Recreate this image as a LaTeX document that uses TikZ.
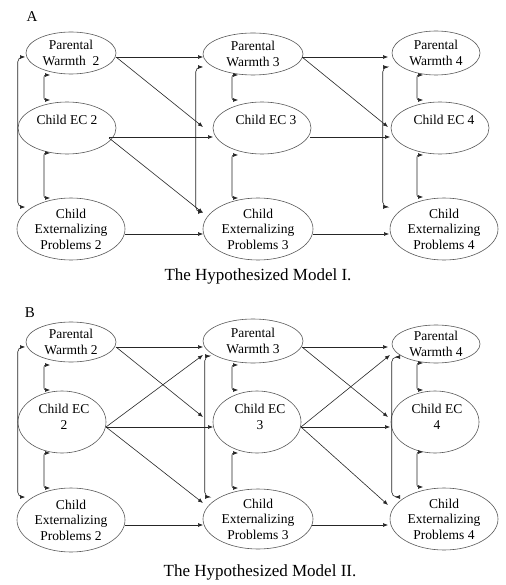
\documentclass[tikz,border=0pt]{standalone}
\usepackage{fontspec}
\setmainfont{Liberation Serif}
\usetikzlibrary{arrows.meta,shapes.geometric,calc}
\begin{document}
\begin{tikzpicture}[x=1pt,y=-1pt,
  ell/.style 2 args={ellipse, draw=black!65, line width=0.6pt, minimum width=#1, minimum height=#2, inner sep=0pt},
  txt/.style={font=\fontsize{13.5}{15.5}\selectfont, align=center, inner sep=0pt},
  captxt/.style={font=\fontsize{17}{20}\selectfont, inner sep=0pt},
  panel/.style={font=\fontsize{15}{18}\selectfont, inner sep=0pt},
  arr/.style={-{Latex[length=5pt,width=4pt]}, line width=0.6pt, draw=black!85},
  bi/.style={{Latex[length=5pt,width=4pt]}-{Latex[length=5pt,width=4pt]}, line width=0.6pt, draw=black!85, rounded corners=5pt},
  sbi/.style={bi, rounded corners=2pt}]
\fill[white] (0,0) rectangle (505,585);
\useasboundingbox (0,0) rectangle (505,585);

% ---------------- Panel A ----------------
\node[panel] (labA) at (32,17) {A};
\node[ell={90pt}{42pt}, label={[txt]center:Parental\\Warmth\ \ 2}] (pw2) at (71,53) {};
\node[ell={100pt}{42pt}, label={[txt]center:Parental\\Warmth 3}] (pw3) at (253,54) {};
\node[ell={88pt}{44pt}, label={[txt]center:Parental\\Warmth 4}] (pw4) at (436,53) {};
\node[ell={98pt}{52pt}, label={[txt,yshift=8pt]center:Child EC 2}] (c2) at (67,128) {};
\node[ell={98pt}{52pt}, label={[txt,yshift=8pt,xshift=4pt]center:Child EC 3}] (c3) at (262,128) {};
\node[ell={98pt}{52pt}, label={[txt,yshift=8pt,xshift=4pt]center:Child EC 4}] (c4) at (440,128) {};
\node[ell={108pt}{62pt}, label={[txt]center:Child\\Externalizing\\Problems 2}] (x2) at (71,229) {};
\node[ell={110pt}{62pt}, label={[txt]center:Child\\Externalizing\\Problems 3}] (x3) at (258,229) {};
\node[ell={108pt}{62pt}, label={[txt]center:Child\\Externalizing\\Problems 4}] (x4) at (444,229) {};
\node[captxt] (capA) at (258,276) {The Hypothesized Model I.};

\draw[arr] ($(pw2)+(45,4)$) -- ($(pw3)+(-50,3)$);
\draw[arr] ($(pw2)+(45,4)$) -- ($(c3)+(-59,-1)$);
\draw[arr] ($(c2)+(42,9)$) -- ($(c3)+(-49,9)$);
\draw[arr] ($(c2)+(42,10)$) -- ($(x3)+(-55,-16)$);
\draw[arr] ($(x2)+(54,5)$) -- ($(x3)+(-55,5)$);
\draw[arr] ($(pw3)+(49,3)$) -- ($(pw4)+(-48,4)$);
\draw[arr] ($(pw3)+(49,3)$) -- ($(c4)+(-52,-1)$);
\draw[arr] ($(c3)+(48,9)$) -- ($(c4)+(-50,9)$);
\draw[arr] ($(x3)+(55,5)$) -- ($(x4)+(-55,5)$);

\draw[bi] ($(pw2)+(-46,4)$) -| (c2.west) |- ($(x2)+(-46,-22)$);
\draw[bi] ($(pw3)+(-50,13)$) -| ($(c3.west)+(-17,0)$) |- ($(x3)+(-55,-17)$);
\draw[bi] ($(pw4)+(-48,14)$) -| ($(c4.west)+(-8,0)$) |- ($(x4)+(-56,-22)$);

\draw[sbi] ($(pw2)+(-21,22)$) -- ++(-6,0) |- ($(c2)+(-17,-28)$);
\draw[sbi] ($(c2)+(-17,25)$) -- ++(-6,0) |- ($(x2)+(-21,-31)$);
\draw[sbi] ($(pw3)+(-15,21)$) -- ++(-6,0) |- ($(c3)+(-24,-28)$);
\draw[sbi] ($(c3)+(-24,27)$) -- ++(-6,0) |- ($(x3)+(-20,-31)$);
\draw[sbi] ($(pw4)+(-13,22)$) -- ++(-6,0) |- ($(c4)+(-17,-28)$);
\draw[sbi] ($(c4)+(-17,27)$) -- ++(-6,0) |- ($(x4)+(-21,-32)$);

% ---------------- Panel B ----------------
\node[panel] (labB) at (30,313) {B};
\node[ell={90pt}{40pt}, label={[txt]center:Parental\\Warmth 2}] (pw2b) at (71,342) {};
\node[ell={100pt}{44pt}, label={[txt]center:Parental\\Warmth 3}] (pw3b) at (253,341) {};
\node[ell={88pt}{38pt}, label={[txt]center:Parental\\Warmth 4}] (pw4b) at (436,344) {};
\node[ell={88pt}{62pt}, label={[txt,yshift=5pt,xshift=2pt]center:Child EC\\2}] (c2b) at (62,422) {};
\node[ell={88pt}{62pt}, label={[txt,yshift=5pt,xshift=3pt]center:Child EC\\3}] (c3b) at (257,422) {};
\node[ell={88pt}{62pt}, label={[txt,yshift=5pt,xshift=2pt]center:Child EC\\4}] (c4b) at (435,422) {};
\node[ell={108pt}{64pt}, label={[txt]center:Child\\Externalizing\\Problems 2}] (x2b) at (71,520) {};
\node[ell={110pt}{60pt}, label={[txt]center:Child\\Externalizing\\Problems 3}] (x3b) at (258,519) {};
\node[ell={108pt}{62pt}, label={[txt]center:Child\\Externalizing\\Problems 4}] (x4b) at (444,519) {};
\node[captxt] (capB) at (260,572) {The Hypothesized Model II.};

\draw[arr] ($(pw2b)+(45,5)$) -- ($(pw3b)+(-50,6)$);
\draw[arr] ($(pw2b)+(45,5)$) -- ($(c3b)+(-54,-5)$);
\draw[arr] ($(c2b)+(44,5)$) -- ($(pw3b)+(-50,14)$);
\draw[arr] ($(c2b)+(44,5)$) -- ($(c3b)+(-44,5)$);
\draw[arr] ($(c2b)+(44,5)$) -- ($(x3b)+(-55,-16)$);
\draw[arr] ($(x2b)+(54,5)$) -- ($(x3b)+(-55,6)$);
\draw[arr] ($(pw3b)+(49,6)$) -- ($(pw4b)+(-48,3)$);
\draw[arr] ($(pw3b)+(49,6)$) -- ($(c4b)+(-47,-5)$);
\draw[arr] ($(c3b)+(44,5)$) -- ($(pw4b)+(-46,11)$);
\draw[arr] ($(c3b)+(44,5)$) -- ($(c4b)+(-45,5)$);
\draw[arr] ($(c3b)+(44,5)$) -- ($(x4b)+(-56,-14)$);
\draw[arr] ($(x3b)+(54,6)$) -- ($(x4b)+(-56,6)$);

\draw[bi] ($(pw2b)+(-46,5)$) -| (c2b.west) |- ($(x2b)+(-46,-23)$);
\draw[bi] ($(pw3b)+(-43,15)$) -| ($(c3b.west)+(-8,0)$) |- ($(x3b)+(-48,-22)$);
\draw[bi] ($(pw4b)+(-41,13)$) -| ($(c4b.west)+(1,0)$) |- ($(x4b)+(-49,-22)$);

\draw[sbi] ($(pw2b)+(-21,23)$) -- ++(-6,0) |- ($(c2b)+(-12,-32)$);
\draw[sbi] ($(c2b)+(-12,31)$) -- ++(-6,0) |- ($(x2b)+(-21,-32)$);
\draw[sbi] ($(pw3b)+(-15,24)$) -- ++(-6,0) |- ($(c3b)+(-19,-32)$);
\draw[sbi] ($(c3b)+(-19,31)$) -- ++(-6,0) |- ($(x3b)+(-20,-31)$);
\draw[sbi] ($(pw4b)+(-13,19)$) -- ++(-6,0) |- ($(c4b)+(-12,-32)$);
\draw[sbi] ($(c4b)+(-12,30)$) -- ++(-6,0) |- ($(x4b)+(-21,-32)$);
\end{tikzpicture}
\end{document}
